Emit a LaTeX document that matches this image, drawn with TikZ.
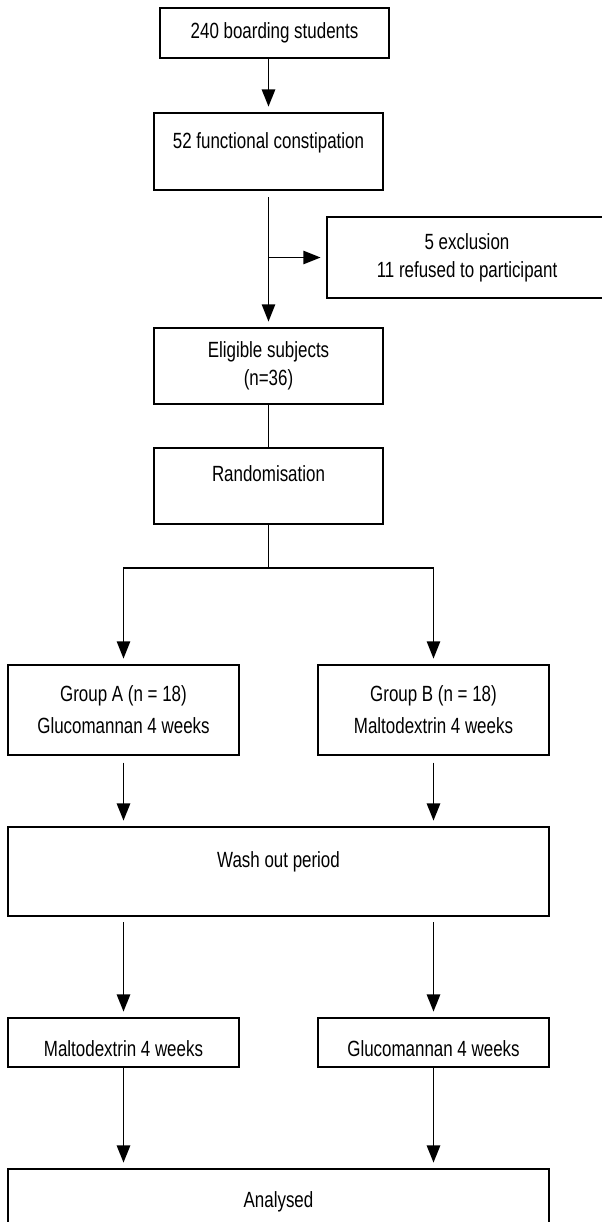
\documentclass[tikz,border=0pt]{standalone}
\usepackage{fontspec}
\setmainfont[FakeStretch=0.77]{Liberation Sans}
\usetikzlibrary{arrows.meta,calc}

\tikzset{
  stage/.style={draw, line width=1.6pt, inner sep=0pt, align=center,
    font=\fontsize{16.5pt}{21pt}\selectfont},
  toptext/.style 2 args={anchor=north, text height=#1, text depth=#2},
  flow/.style={-{Triangle[width=10pt,length=13pt]}, line width=1.4pt, shorten >=4pt},
  link/.style={line width=1.4pt}
}

\begin{document}
\begin{tikzpicture}[x=0.75pt,y=-0.75pt]
  % Parameters
  \def\C{268.5}     % centre column
  \def\A{123.5}     % left arm
  \def\B{433.5}     % right arm
  \def\M{278.5}     % middle of the wide boxes
  \def\W{171.75pt}  % narrow boxes
  \def\Wg{173.25pt} % group boxes
  \def\Ww{405.75pt} % wide boxes

  \useasboundingbox (0,0) rectangle (602,1222);

  % Screening
  \node[stage, minimum width=\W, minimum height=37.5pt] (students) at (274.5,33) {240 boarding students};
  \node[stage, minimum width=\W, toptext={26.25pt}{31.5pt}] (constip) at (\C,112) {52 functional constipation};
  \node[stage, minimum width=210pt, minimum height=60.75pt] (excl) at (467,257.5) {5 exclusion\\11 refused to participant};
  \node[stage, minimum width=\W, minimum height=57pt] (elig) at (\C,366) {Eligible subjects\\(n=36)};
  \node[stage, minimum width=\W, toptext={24.75pt}{32.25pt}] (rand) at (\C,447) {Randomisation};

  % Crossover arms
  \node[stage, minimum width=\Wg, minimum height=67.5pt, font=\fontsize{16.5pt}{24pt}\selectfont] (grpA) at (\A,710) {Group A (n = 18)\\Glucomannan 4 weeks};
  \node[stage, minimum width=\Wg, minimum height=67.5pt, font=\fontsize{16.5pt}{24pt}\selectfont] (grpB) at (\B,710) {Group B (n = 18)\\Maltodextrin 4 weeks};
  \node[stage, minimum width=\Ww, toptext={30pt}{36.75pt}] (wash) at (\M,826) {Wash out period};
  \node[stage, minimum width=\Wg, toptext={28.5pt}{8.25pt}] (maltoA) at (\A,1017) {Maltodextrin 4 weeks};
  \node[stage, minimum width=\Wg, toptext={28.5pt}{8.25pt}] (glucoB) at (\B,1017) {Glucomannan 4 weeks};
  \node[stage, minimum width=\Ww, toptext={28.5pt}{45pt}] (analysed) at (\M,1168) {Analysed};

  \coordinate (split) at (\C,568);

  % Connectors
  \draw[flow] (students.south -| constip) -- (constip);
  \draw[flow, shorten <=4.5pt] (constip) -- (elig);
  \draw[flow] (constip |- excl) -- (excl);
  \draw[link] (elig) -- (rand);
  \draw[link] (rand) -- (split);
  \draw[flow] (split) -| (grpA);
  \draw[flow] (split) -| (grpB);
  \draw[flow, shorten <=5pt] (grpA) -- (grpA |- wash.north);
  \draw[flow, shorten <=5pt] (grpB) -- (grpB |- wash.north);
  \draw[flow, shorten <=4pt] (wash.south -| maltoA) -- (maltoA);
  \draw[flow, shorten <=4pt] (wash.south -| glucoB) -- (glucoB);
  \draw[flow] (maltoA) -- (maltoA |- analysed.north);
  \draw[flow] (glucoB) -- (glucoB |- analysed.north);
\end{tikzpicture}
\end{document}
